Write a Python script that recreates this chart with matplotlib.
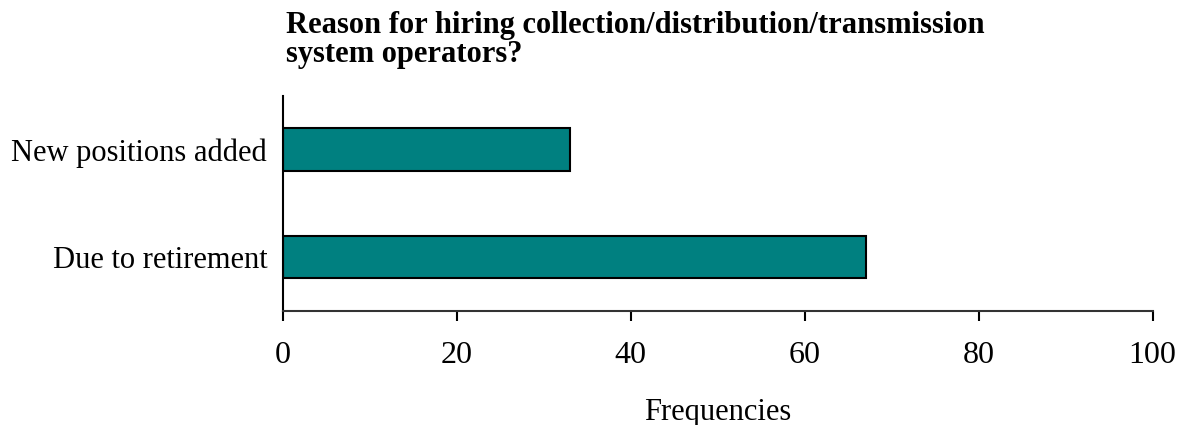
import matplotlib.pyplot as plt

# odgovori na anketo
kategorije = ['Due to retirement', 'New positions added']
frekvence = [67, 33]
oznake_x = [0, 20, 40, 60, 80, 100]
naslov = ['Reason for hiring collection/distribution/transmission',
          'system operators?']

plt.rcParams['font.family'] = ['Liberation Serif', 'DejaVu Serif']

fig = plt.figure(figsize=(11.85, 4.25), dpi=100)
ax = fig.add_axes([0.2384, 0.269, 0.7343, 0.505])

ax.barh(range(len(kategorije)), frekvence, height=0.4, color='#008080',
        edgecolor='black', linewidth=1.5)

ax.set_xlim(0, 100)
ax.set_ylim(-0.5, 1.5)
ax.set_xticks(oznake_x)
ax.set_yticks(range(len(kategorije)))
ax.set_yticklabels(kategorije)

for s in ['top', 'right']:
    ax.spines[s].set_visible(False)
ax.spines['left'].set_linewidth(1.5)
ax.spines['bottom'].set_linewidth(1.5)
ax.spines['bottom'].set_color('#333333')

ax.tick_params(axis='x', direction='out', length=7, width=1.5, pad=15, labelsize=23)
ax.tick_params(axis='y', length=0, pad=11, labelsize=22)

ax.set_xlabel('Frequencies', fontsize=22, labelpad=20)

# naslov v dveh vrsticah
fig.text(0.2413, 1 - 33 / 425, naslov[0], fontsize=22, fontweight='bold',
         ha='left', va='baseline')
fig.text(0.2413, 1 - 62 / 425, naslov[1], fontsize=22, fontweight='bold',
         ha='left', va='baseline')

plt.savefig('out.png', dpi=100)
